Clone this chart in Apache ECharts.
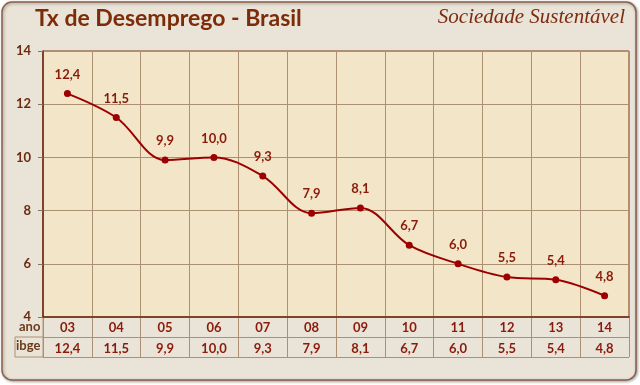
<!DOCTYPE html>
<html><head><meta charset="utf-8">
<script src="https://cdn.jsdelivr.net/npm/echarts@6/dist/echarts.min.js"></script>
<style>html,body{margin:0;padding:0;background:#fff}#c{width:640px;height:385px}</style>
</head><body><div id="c"></div>
<script>
const years = ['03','04','05','06','07','08','09','10','11','12','13','14'];
const ibge = [12.4, 11.5, 9.9, 10.0, 9.3, 7.9, 8.1, 6.7, 6.0, 5.5, 5.4, 4.8];
const yTicks = [4, 6, 8, 10, 12, 14];
const titleText = 'Tx de Desemprego - Brasil';
const brandText = 'Sociedade Sustentável';
const rowLabels = ['ano', 'ibge'];

const fmt = v => v.toFixed(1).replace('.', ',');
const FONT = 'Lato, "Open Sans", sans-serif';
const gridCol = '#ad9072';
const axisCol = '#6e2a12';
const textCol = '#8a1a0a';

const chart = echarts.init(document.getElementById('c'), null, {renderer: 'canvas'});
const G = {left: 43, right: 11, top: 51, bottom: 68};

const option = {
  animation: false,
  backgroundColor: 'transparent',
  graphic: [
    {type: 'rect', z: -10, shape: {x: 2, y: 2, width: 634, height: 378, r: 10},
     style: {fill: '#e9e3d8', stroke: '#8d5f45', lineWidth: 1.5, shadowBlur: 3, shadowColor: 'rgba(0,0,0,0.35)', shadowOffsetX: 1, shadowOffsetY: 1}},
    {type: 'text', left: 35, top: 7, style: {text: titleText, font: 'bold 23px ' + FONT, fill: '#7c2c08'}},
    {type: 'text', right: 15, top: 7, style: {text: brandText, font: 'italic 21px "Liberation Serif", serif', fill: '#7c2c10'}},
    {type: 'text', left: 19, top: 320, style: {text: rowLabels[0], font: 'bold 13px ' + FONT, fill: '#6a3a1a'}},
    {type: 'text', left: 16, top: 339, style: {text: rowLabels[1], font: 'bold 13px ' + FONT, fill: '#6a3a1a'}},
    {type: 'polyline', shape: {points: [[43, 337], [15, 337], [15, 357], [43, 357]]}, style: {stroke: gridCol, lineWidth: 1, fill: null}},
    {type: 'line', shape: {x1: 43, y1: 317, x2: 43, y2: 357}, style: {stroke: gridCol, lineWidth: 1}}
  ],
  grid: [
    Object.assign({show: true, backgroundColor: '#f3e6c8', borderColor: '#7a3a1a', borderWidth: 1}, G),
    {left: 43, right: 11, top: 317, height: 40, show: false}
  ],
  xAxis: [
    {type: 'category', gridIndex: 0, data: years, boundaryGap: true,
     axisLine: {lineStyle: {color: axisCol, width: 1.5}}, axisTick: {show: false},
     splitLine: {show: true, lineStyle: {color: gridCol, width: 1}},
     axisLabel: {color: textCol, fontFamily: FONT, fontSize: 13, fontWeight: 'bold', margin: 4, interval: 0}},
    {type: 'category', gridIndex: 0, data: years, position: 'bottom', offset: 21, boundaryGap: true,
     axisLine: {show: false}, axisTick: {show: false},
     axisLabel: {color: textCol, fontFamily: FONT, fontSize: 13, fontWeight: 'bold', margin: 4, interval: 0,
       formatter: (v, i) => fmt(ibge[i])}},
    {type: 'category', gridIndex: 1, data: years, boundaryGap: true,
     axisLine: {show: false}, axisTick: {show: false}, axisLabel: {show: false},
     splitLine: {show: true, interval: 0, lineStyle: {color: gridCol, width: 1}}}
  ],
  yAxis: [
    {type: 'value', gridIndex: 0, min: yTicks[0], max: yTicks[yTicks.length - 1], interval: 2,
     axisLine: {show: true, lineStyle: {color: axisCol, width: 1.5}},
     axisTick: {show: true, length: 5, lineStyle: {color: '#8a7060'}},
     splitLine: {show: true, lineStyle: {color: gridCol, width: 1}},
     axisLabel: {color: '#6a2a0e', fontFamily: FONT, fontSize: 13, fontWeight: 'bold', margin: 12}},
    {type: 'value', gridIndex: 1, min: 0, max: 2, interval: 1,
     axisLine: {show: false}, axisTick: {show: false}, axisLabel: {show: false},
     splitLine: {show: true, lineStyle: {color: gridCol, width: 1}}}
  ],
  series: [{
    type: 'line', xAxisIndex: 0, yAxisIndex: 0, data: ibge, smooth: 0.35,
    symbol: 'circle', symbolSize: 7,
    lineStyle: {color: '#9c0000', width: 2},
    itemStyle: {color: '#9c0000'},
    label: {show: true, position: 'top', distance: 9, color: textCol, fontFamily: FONT, fontSize: 13, fontWeight: 'bold',
      formatter: p => fmt(p.value)}
  }]
};
chart.setOption(option);
</script></body></html>
